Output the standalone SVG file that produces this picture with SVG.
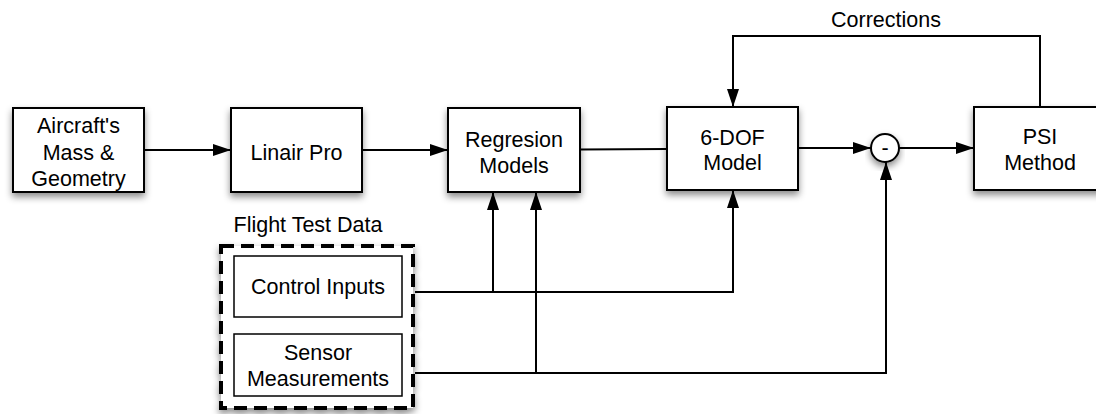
<svg xmlns="http://www.w3.org/2000/svg" width="1096" height="414" viewBox="0 0 1096 414">
<style>
.box{fill:#fff;stroke:#000;stroke-width:2;filter:url(#sh)}
.inner{fill:#fff;stroke:#000;stroke-width:1.5}
.t{font-family:"Liberation Sans",Arial,Helvetica,sans-serif;font-size:21.5px;fill:#000;text-anchor:middle}
.c{fill:none;stroke:#000;stroke-width:2}
.ca{fill:none;stroke:#000;stroke-width:2;marker-end:url(#ah)}
</style>
<defs>
<filter id="sh" x="-20%" y="-20%" width="140%" height="150%">
<feDropShadow dx="0" dy="4" stdDeviation="3.5" flood-color="#000" flood-opacity="0.45"/>
</filter>
<marker id="ah" viewBox="0 0 18 12" refX="18" refY="6" markerWidth="18" markerHeight="12" markerUnits="userSpaceOnUse" orient="auto">
<path d="M0,0 L18,6 L0,12 Z" fill="#000"/>
</marker>
</defs>
<rect width="1096" height="414" fill="#fff"/>
<g id="connectors">
<line class="ca" x1="144" y1="150" x2="231" y2="150"/>
<line class="ca" x1="362" y1="150" x2="448" y2="150"/>
<line class="c" x1="580" y1="149.5" x2="667" y2="149"/>
<line class="ca" x1="798" y1="148" x2="871" y2="148"/>
<line class="ca" x1="899" y1="148" x2="974" y2="148"/>
<polyline class="ca" points="1040,107 1040,36 733,36 733,107"/>
<polyline class="ca" points="415,292 733,292 733,190"/>
<line class="ca" x1="493" y1="292" x2="493" y2="192"/>
<polyline class="ca" points="415,373 886,373 886,162"/>
<line class="ca" x1="536" y1="373" x2="536" y2="192"/>
<text class="t" x="886" y="27">Corrections</text>
</g>
<g id="aircraft">
<rect class="box" x="13" y="108" width="131" height="84"/>
<text class="t" x="78.5" y="133">Aircraft's</text>
<text class="t" x="78.5" y="160">Mass &amp;</text>
<text class="t" x="78.5" y="186">Geometry</text>
</g>
<g id="linair">
<rect class="box" x="231" y="108" width="131" height="84"/>
<text class="t" x="296.5" y="160">Linair Pro</text>
</g>
<g id="regression">
<rect class="box" x="448" y="108" width="132" height="84"/>
<text class="t" x="514" y="147">Regresion</text>
<text class="t" x="514" y="173">Models</text>
</g>
<g id="sixdof">
<rect class="box" x="667" y="107" width="131" height="83"/>
<text class="t" x="732.5" y="145">6-DOF</text>
<text class="t" x="732.5" y="170">Model</text>
</g>
<g id="sum">
<circle cx="885" cy="148" r="14" fill="#fff" stroke="#000" stroke-width="2" filter="url(#sh)"/>
<text class="t" x="885" y="155">-</text>
</g>
<g id="psi">
<rect class="box" x="974" y="107" width="131" height="83"/>
<text class="t" x="1040" y="144">PSI</text>
<text class="t" x="1040" y="170">Method</text>
</g>
<g id="flighttest">
<text class="t" x="308" y="232">Flight Test Data</text>
<rect x="221" y="246" width="192" height="162" fill="#fff" stroke="#000" stroke-width="4" stroke-dasharray="13 7" filter="url(#sh)"/>
<g id="controlinputs">
<rect class="inner" x="234" y="256" width="168" height="61"/>
<text class="t" x="318" y="294">Control Inputs</text>
</g>
<g id="sensors">
<rect class="inner" x="234" y="334" width="168" height="62"/>
<text class="t" x="318" y="360">Sensor</text>
<text class="t" x="318" y="386">Measurements</text>
</g>
</g>
</svg>
